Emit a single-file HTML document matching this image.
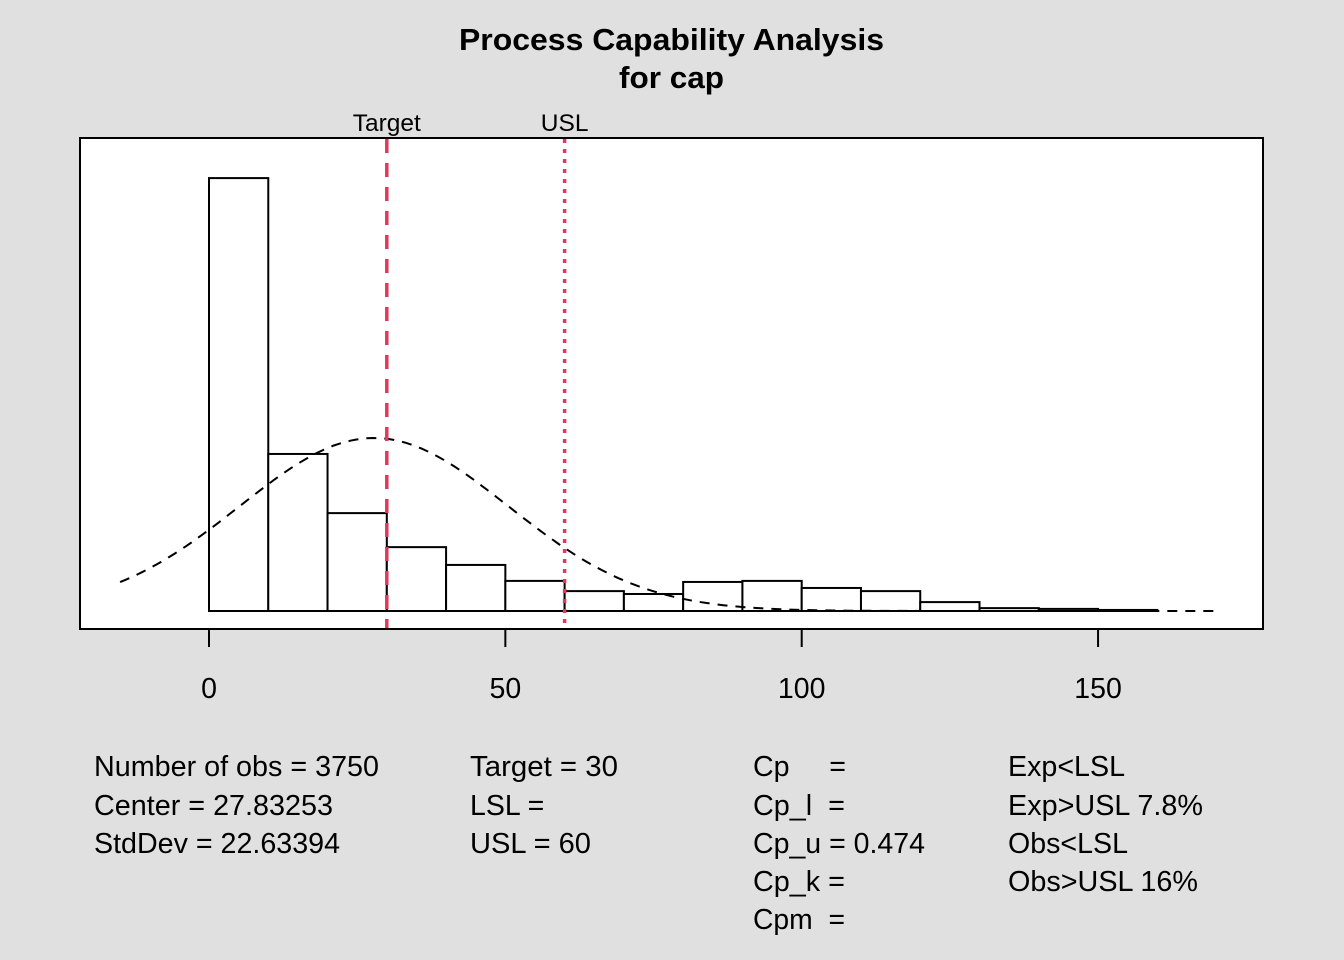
<!DOCTYPE html>
<html><head><meta charset="utf-8"><style>
html,body{margin:0;padding:0;background:#e0e0e0;}
svg{display:block;font-family:"Liberation Sans",Arial,sans-serif;}
text{white-space:pre;}
</style></head><body>
<svg width="1344" height="960" xmlns="http://www.w3.org/2000/svg">
<rect x="0" y="0" width="1344" height="960" fill="#e0e0e0"/>
<text x="459" y="50" font-size="31" font-weight="bold" textLength="425" lengthAdjust="spacingAndGlyphs">Process Capability Analysis</text>
<text x="619" y="88" font-size="31" font-weight="bold" textLength="105" lengthAdjust="spacingAndGlyphs">for cap</text>
<rect x="80" y="138" width="1183" height="491" fill="#fff" stroke="#000" stroke-width="2"/>
<g id="bars"></g>
<path id="curve" fill="none" stroke="#000" stroke-width="2" stroke-dasharray="10,8"/>
<g id="lines"></g>
<g id="xaxis"></g>
<g font-size="28.5">
<text x="94" y="776" textLength="285" lengthAdjust="spacingAndGlyphs">Number of obs = 3750</text>
<text x="94" y="815" textLength="239" lengthAdjust="spacingAndGlyphs">Center = 27.83253</text>
<text x="94" y="853" textLength="246" lengthAdjust="spacingAndGlyphs">StdDev = 22.63394</text>
<text x="470" y="776" textLength="148" lengthAdjust="spacingAndGlyphs">Target = 30</text>
<text x="470" y="815">LSL =</text>
<text x="470" y="853" textLength="121" lengthAdjust="spacingAndGlyphs">USL = 60</text>
<text x="753" y="776" textLength="93" lengthAdjust="spacingAndGlyphs">Cp     =</text>
<text x="753" y="815" textLength="92" lengthAdjust="spacingAndGlyphs">Cp_l  =</text>
<text x="753" y="853" textLength="172" lengthAdjust="spacingAndGlyphs">Cp_u = 0.474</text>
<text x="753" y="891" textLength="92" lengthAdjust="spacingAndGlyphs">Cp_k =</text>
<text x="753" y="929" textLength="92" lengthAdjust="spacingAndGlyphs">Cpm  =</text>
<text x="1008" y="776" textLength="117" lengthAdjust="spacingAndGlyphs">Exp&lt;LSL</text>
<text x="1008" y="815" textLength="195" lengthAdjust="spacingAndGlyphs">Exp&gt;USL 7.8%</text>
<text x="1008" y="853" textLength="120" lengthAdjust="spacingAndGlyphs">Obs&lt;LSL</text>
<text x="1008" y="891" textLength="190" lengthAdjust="spacingAndGlyphs">Obs&gt;USL 16%</text>
</g>
</svg>
<script>
const binStarts=[0,10,20,30,40,50,60,70,80,90,100,110,120,130,140,150];
const counts=[1654,600,374,244,176,115,76,65,111,115,88,76,34,11,8,4];
const nObs=3750, center=27.83253, sd=22.63394, binW=10;
const target=30, usl=60;
const xTicks=[0,50,100,150];
const curveRange=[-15,170];
const NS="http://www.w3.org/2000/svg";
const x=v=>209+v*5.927;
const y=d=>611-d*9815;
const bars=document.getElementById('bars');
binStarts.forEach((b,i)=>{
  const d=counts[i]/(nObs*binW);
  const r=document.createElementNS(NS,'rect');
  r.setAttribute('x',x(b));r.setAttribute('width',x(b+binW)-x(b));
  r.setAttribute('y',y(d));r.setAttribute('height',611-y(d));
  r.setAttribute('fill','#fff');r.setAttribute('stroke','#000');r.setAttribute('stroke-width','2');
  
  
  bars.appendChild(r);
});
let p='';
for(let i=0;i<=200;i++){const v=curveRange[0]+(curveRange[1]-curveRange[0])*i/200;
 const d=Math.exp(-0.5*((v-center)/sd)**2)/(sd*Math.sqrt(2*Math.PI));
 p+=(i?'L':'M')+x(v).toFixed(1)+','+y(d).toFixed(1);}
document.getElementById('curve').setAttribute('d',p);
const lines=document.getElementById('lines');
[[target,'Target','14,10','target-line'],[usl,'USL','4,6','usl-line']].forEach(([v,lab,da,nm])=>{
  const l=document.createElementNS(NS,'line');
  l.setAttribute('x1',x(v));l.setAttribute('x2',x(v));l.setAttribute('y1',139);l.setAttribute('y2',629);
  l.setAttribute('stroke','#DF3A5E');l.setAttribute('stroke-width','3.5');l.setAttribute('stroke-dasharray',da);
  
  
  lines.appendChild(l);
  const t=document.createElementNS(NS,'text');
  t.setAttribute('x',x(v));t.setAttribute('y',131);t.setAttribute('text-anchor','middle');t.setAttribute('font-size','24.5');
  t.textContent=lab;
  
  
  lines.appendChild(t);
});
const ax=document.getElementById('xaxis');
const al=document.createElementNS(NS,'line');
al.setAttribute('x1',x(xTicks[0]));al.setAttribute('x2',x(xTicks[xTicks.length-1]));al.setAttribute('y1',629);al.setAttribute('y2',629);al.setAttribute('stroke','#000');al.setAttribute('stroke-width','2');


ax.appendChild(al);
xTicks.forEach(v=>{
  const l=document.createElementNS(NS,'line');
  l.setAttribute('x1',x(v));l.setAttribute('x2',x(v));l.setAttribute('y1',629);l.setAttribute('y2',647);l.setAttribute('stroke','#000');l.setAttribute('stroke-width','2');
  
  
  ax.appendChild(l);
  const t=document.createElementNS(NS,'text');
  t.setAttribute('x',x(v));t.setAttribute('y',698);t.setAttribute('text-anchor','middle');t.setAttribute('font-size','28.5');
  t.textContent=v;
  
  
  ax.appendChild(t);
});
</script>
</body></html>
